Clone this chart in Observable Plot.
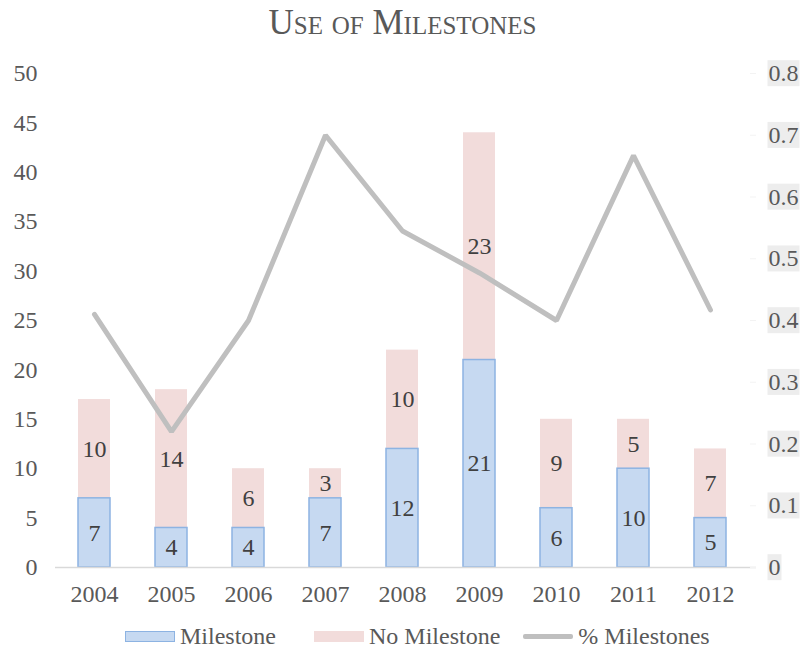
<!DOCTYPE html>
<html>
<head>
<meta charset="utf-8">
<script src="https://cdn.jsdelivr.net/npm/d3@7"></script>
<script src="https://cdn.jsdelivr.net/npm/@observablehq/plot@0.6"></script>
<style>
  body { margin: 0; background: #fff; font-family: "Liberation Serif", "Times New Roman", serif; color: #595959; overflow: hidden; }
  #title { height: 50px; line-height: 46px; text-align: center; font-size: 35px; font-variant: small-caps; color: #595959; }
  #chart svg { display: block; }
  #legend { height: 31px; padding-top: 2px; line-height: 31px; font-size: 24px; color: #595959; padding-left: 125px; white-space: nowrap; }
  .item { display: inline-flex; align-items: center; vertical-align: middle; line-height: 28px; }
  .sw { display: inline-block; width: 50px; height: 11px; margin-right: 5px; box-sizing: border-box; }
</style>
</head>
<body>
<div id="title">Use of Milestones</div>
<div id="chart"></div>
<div id="legend"></div>
<script>
const years = ["2004","2005","2006","2007","2008","2009","2010","2011","2012"];
const milestone = [7, 4, 4, 7, 12, 21, 6, 10, 5];
const noMilestone = [10, 14, 6, 3, 10, 23, 9, 5, 7];
const pctMilestones = [0.41, 0.22, 0.40, 0.70, 0.545, 0.477, 0.40, 0.667, 0.417];
const leftTicks = [0, 5, 10, 15, 20, 25, 30, 35, 40, 45, 50];
const rightTicks = [0, 0.1, 0.2, 0.3, 0.4, 0.5, 0.6, 0.7, 0.8];
const seriesNames = ["Milestone", "No Milestone", "% Milestones"];

const RATIO = 50 / 0.8; // right axis -> left axis

const rows = years.flatMap((y, i) => [
  {year: y, series: seriesNames[0], value: milestone[i]},
  {year: y, series: seriesNames[1], value: noMilestone[i]}
]);
const pctRows = years.map((y, i) => ({year: y, p: pctMilestones[i] * RATIO}));

const plot = Plot.plot({
  width: 805,
  height: 567,
  marginTop: 23,
  marginBottom: 50,
  marginLeft: 55,
  marginRight: 56,
  style: {fontFamily: "Liberation Serif, Times New Roman, serif", fontSize: "24px", color: "#595959", background: "#fff"},
  x: {domain: years, type: "band", paddingInner: 0.585, paddingOuter: 0.2925},
  y: {domain: [0, 50]},
  color: {domain: seriesNames.slice(0, 2), range: ["#c6d9f1", "#f2dcdb"]},
  marks: [
    Plot.barY(rows, {x: "year", y: "value", z: "series", fill: "series"}),
    Plot.barY(rows.filter(d => d.series === seriesNames[0]), {x: "year", y: "value", fill: "none", stroke: "#8db3e2", strokeWidth: 1.5}),
    Plot.ruleY([0], {stroke: "#d9d9d9", strokeWidth: 1.5, insetRight: -7}),
    Plot.line(pctRows, {x: "year", y: "p", stroke: "#bfbfbf", strokeWidth: 5, strokeLinejoin: "miter"}),
    Plot.text(rows, Plot.stackY({x: "year", y: "value", z: "series", text: d => String(d.value), fill: "#404040", fontSize: 24})),
    Plot.axisY({ticks: leftTicks, tickSize: 0, tickPadding: 18, label: null, fontSize: 24}),
    Plot.axisY({anchor: "right", ticks: rightTicks.map(v => v * RATIO), tickFormat: d => String(+(d / RATIO).toFixed(1)), tickSize: 6, tickPadding: 13, label: null, fontSize: 24, stroke: "#f3f3f3"}),
    Plot.axisX({tickSize: 0, tickPadding: 17, label: null, fontSize: 24})
  ]
});
document.getElementById("chart").appendChild(plot);

// grey highlight behind right-axis tick labels
d3.select(plot).selectAll('g[aria-label="y-axis tick label"]').each(function() {
  const g = d3.select(this);
  if (g.attr("text-anchor") !== "start") return;
  g.selectAll("text").each(function() {
    const bb = this.getBBox();
    const r = document.createElementNS("http://www.w3.org/2000/svg", "rect");
    r.setAttribute("x", bb.x - 1);
    r.setAttribute("y", bb.y);
    r.setAttribute("width", bb.width + 2);
    r.setAttribute("height", bb.height);
    r.setAttribute("fill", "#ededed");
    r.setAttribute("stroke", "none");
    const t = this.getAttribute("transform");
    if (t) r.setAttribute("transform", t);
    this.parentNode.insertBefore(r, this);
  });
});

// legend
const legend = document.getElementById("legend");
const items = [
  {name: seriesNames[0], style: "background:#c6d9f1;border:1.5px solid #8db3e2;", gap: 38},
  {name: seriesNames[1], style: "background:#f2dcdb;", gap: 23},
  {name: seriesNames[2], style: "height:5px;background:#bfbfbf;border-radius:2px;", gap: 0}
];
items.forEach(it => {
  const span = document.createElement("span");
  span.className = "item";
  span.style.marginRight = it.gap + "px";
  span.innerHTML = `<span class="sw" style="${it.style}"></span><span>${it.name}</span>`;
  legend.appendChild(span);
});
</script>
</body>
</html>
